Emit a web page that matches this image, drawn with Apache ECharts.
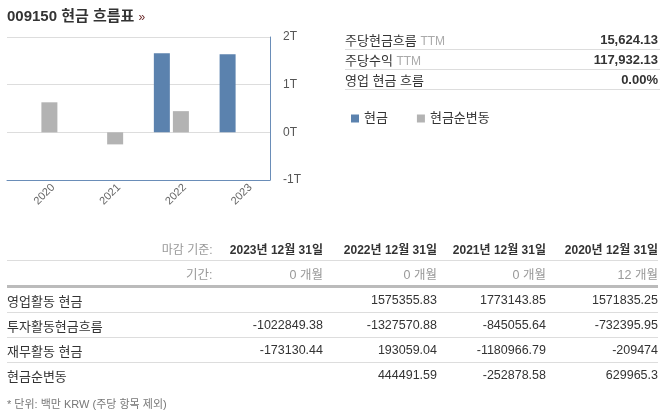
<!DOCTYPE html>
<html>
  <head>
    <meta charset="utf-8">
    <title>009150 현금 흐름표</title>
    <style>
      html, body {
        margin: 0;
        padding: 0;
        width: 662px;
        height: 413px;
        background: #fff;
        font-family: "Liberation Sans", "Noto Sans CJK KR", sans-serif;
        color: #333;
        overflow: hidden;
      }
      #chart {
        position: absolute;
        left: 0;
        top: 0;
        width: 662px;
        height: 413px;
      }
      .title {
        position: absolute;
        left: 7px;
        top: 4px;
        font-size: 15px;
        font-weight: bold;
        color: #333;
      }
      .title .more {
        font-size: 12px;
        font-weight: normal;
        color: #6b2b2b;
      }
      .stats {
        position: absolute;
        left: 345px;
        top: 30px;
        width: 315px;
        border-collapse: collapse;
        font-size: 13px;
      }
      .stats td {
        height: 19px;
        padding: 0;
        border-bottom: 1px solid #ddd;
      }
      .stats .ttm { color: #aaa; font-size: 12px; }
      .stats .val { text-align: right; font-weight: bold; padding-right: 2px; }
      .report {
        position: absolute;
        left: 7px;
        top: 236px;
        width: 651px;
        border-collapse: collapse;
        font-size: 12.5px;
        table-layout: fixed;
      }
      .report td {
        padding: 0;
        height: 24px;
        text-align: right;
        white-space: nowrap;
        overflow: visible;
      }
      .report td.name { text-align: left; font-size: 13px; }
      .report tr.head td { font-weight: bold; font-size: 12px; }
      .report td.cap { color: #999; font-weight: normal !important; }
      .report tr.period td { color: #999; border-top: 1px solid #ddd; border-bottom: 3px solid #bbb; }
      .report tr.body td { border-bottom: 1px solid #ddd; }
      .report tr.last td { border-bottom: none; }
      .note {
        position: absolute;
        left: 7px;
        top: 395px;
        font-size: 11px;
        color: #777;
      }
    </style>
  </head>
  <body>
    <div id="chart"></div>
    <div class="title">009150 현금 흐름표 <span class="more">»</span></div>
    <table class="stats" id="stats"></table>
    <table class="report" id="report"></table>
    <div class="note">* 단위: 백만 KRW (주당 항목 제외)</div>
    <script src="https://cdn.jsdelivr.net/npm/echarts@6/dist/echarts.min.js"></script>
    <script type="text/javascript">

      // chart data (million KRW)
      const years = ['2020', '2021', '2022', '2023'];
      const cashValues = [null, null, 1660000, 1640000];
      const netChangeValues = [629965.3, -252878.58, 444491.59, null];
      const seriesNames = ['현금', '현금순변동'];
      const yTicks = { min: -1000000, max: 2000000, interval: 1000000 };

      // summary rows
      const statLabels = ['주당현금흐름', '주당수익', '영업 현금 흐름'];
      const statTtm = [true, true, false];
      const statValues = ['15,624.13', '117,932.13', '0.00%'];

      // report table
      const periodEnds = ['2023년 12월 31일', '2022년 12월 31일', '2021년 12월 31일', '2020년 12월 31일'];
      const periodMonths = ['0 개월', '0 개월', '0 개월', '12 개월'];
      const rowNames = ['영업활동 현금', '투자활동현금흐름', '재무활동 현금', '현금순변동'];
      const rowValues = [
        ['', '1575355.83', '1773143.85', '1571835.25'],
        ['-1022849.38', '-1327570.88', '-845055.64', '-732395.95'],
        ['-173130.44', '193059.04', '-1180966.79', '-209474'],
        ['', '444491.59', '-252878.58', '629965.3']
      ];

      const buildStats = () => {
        const el = document.getElementById('stats');
        el.innerHTML = statLabels.map((label, i) =>
          '<tr><td>' + label + (statTtm[i] ? ' <span class="ttm">TTM</span>' : '') +
          '</td><td class="val">' + statValues[i] + '</td></tr>'
        ).join('');
      };

      const buildReport = () => {
        const el = document.getElementById('report');
        let html = '<colgroup><col style="width:209px"><col style="width:107px"><col style="width:114px"><col style="width:109px"><col style="width:112px"></colgroup>';
        html += '<tr class="head"><td class="cap">마감 기준:&nbsp;</td>' +
          periodEnds.map(p => '<td>' + p + '</td>').join('') + '</tr>';
        html += '<tr class="period"><td class="cap">기간:&nbsp;</td>' +
          periodMonths.map(p => '<td>' + p + '</td>').join('') + '</tr>';
        rowNames.forEach((name, i) => {
          const cls = i === rowNames.length - 1 ? 'body last' : 'body';
          html += '<tr class="' + cls + '"><td class="name">' + name + '</td>' +
            rowValues[i].map(v => '<td>' + v + '</td>').join('') + '</tr>';
        });
        el.innerHTML = html;
      };

      const initChart = () => {
        const chart = echarts.init(document.getElementById('chart'));
        const axisBlue = '#6a8db8';
        chart.setOption({
          animation: false,
          textStyle: { fontFamily: '"Liberation Sans", "Noto Sans CJK KR", sans-serif' },
          legend: {
            left: 346,
            top: 107,
            icon: 'rect',
            itemWidth: 8,
            itemHeight: 8,
            itemGap: 29,
            textStyle: { fontSize: 13, color: '#333' },
            data: seriesNames
          },
          grid: { left: 7, top: 37, width: 263, height: 143 },
          xAxis: {
            type: 'category',
            data: years,
            axisLine: { onZero: false, lineStyle: { color: axisBlue } },
            axisTick: { length: 5, lineStyle: { color: axisBlue } },
            axisLabel: {
              rotate: 45,
              align: 'center',
              verticalAlign: 'middle',
              margin: 19,
              padding: [0, 0, 0, 13],
              fontSize: 11,
              color: '#666'
            }
          },
          yAxis: {
            type: 'value',
            position: 'right',
            min: yTicks.min,
            max: yTicks.max,
            interval: yTicks.interval,
            axisLine: { show: true, lineStyle: { color: axisBlue } },
            axisTick: { show: false },
            axisLabel: {
              margin: 13,
              fontSize: 12,
              color: '#555',
              formatter: v => (v / 1000000) + 'T'
            },
            splitLine: { lineStyle: { color: '#dddddd' } }
          },
          series: [
            {
              name: seriesNames[0],
              type: 'bar',
              data: cashValues,
              barWidth: 16,
              barGap: '19%',
              itemStyle: { color: '#5b82ae' }
            },
            {
              name: seriesNames[1],
              type: 'bar',
              data: netChangeValues,
              barWidth: 16,
              itemStyle: { color: '#b3b3b3' }
            }
          ]
        });
      };

      buildStats();
      buildReport();
      initChart();
    </script>
  </body>
</html>
